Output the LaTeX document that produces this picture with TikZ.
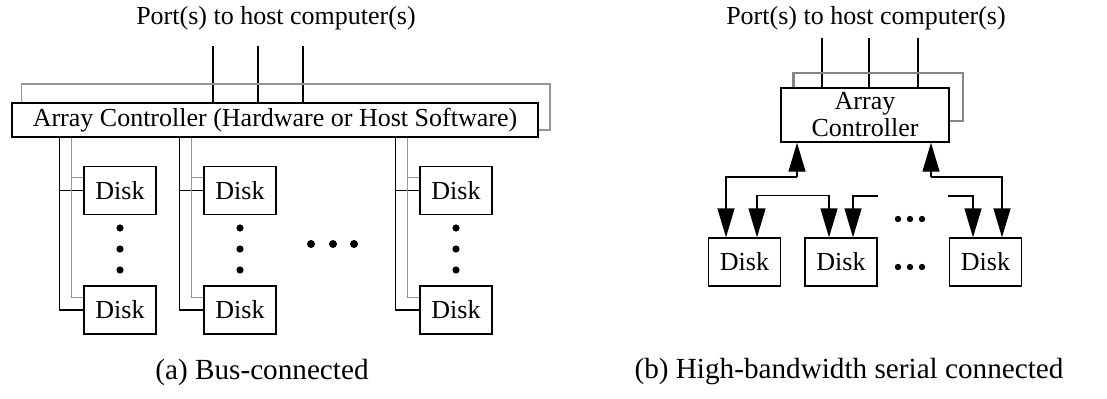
\documentclass[tikz,border=0pt]{standalone}
\usepackage{fontspec}
\setmainfont{Liberation Serif}
\usetikzlibrary{arrows.meta,positioning,calc}
\definecolor{busGray}{RGB}{150,150,150}
\definecolor{loopGray}{RGB}{135,135,135}
\tikzset{
  box/.style={draw, line width=0.7pt, inner sep=0pt, align=center,
              font=\fontsize{13}{13.5}\selectfont},
  diskbox/.style={box, minimum width=36pt, minimum height=24pt},
  lbl/.style={inner sep=0pt, font=\fontsize{13}{14}\selectfont},
  caption/.style={inner sep=0pt, font=\fontsize{14.6}{16}\selectfont},
  wire/.style={line width=0.7pt},
  graywire/.style={line width=0.55pt, draw=busGray},
  loopwire/.style={line width=1.3pt, draw=loopGray},
  arrow/.style={wire, -{Triangle[length=14.5pt, width=8.5pt]}},
  dblarrow/.style={wire, {Triangle[length=14.5pt, width=8.5pt]}-{Triangle[length=14.5pt, width=8.5pt]}}
}

\begin{document}
\begin{tikzpicture}[x=0.5pt, y=-0.5pt]
\useasboundingbox (0,0) rectangle (1107,398);
% (a) bus-connected
\node[lbl] (portA) at (276,18) {Port(s) to host computer(s)};
\node[box, minimum width=263pt, minimum height=17pt] (ctlA) at (275,120) {Array Controller (Hardware or Host Software)};
\foreach \x [count=\i] in {213,258,303} {
  \coordinate (pA\i) at (\x,46);
  \draw[wire] (pA\i) -- (pA\i |- ctlA.north);
}
\coordinate (loopA) at (550,84);
\draw[graywire] ([xshift=5pt]ctlA.north west) |- (loopA) |- ([yshift=-5pt]ctlA.east);
\foreach \c/\x in {1/120,2/240,3/456} {
  \node[diskbox] (topA\c) at (\x,190.5) {Disk};
  \node[diskbox] (botA\c) at (\x,310) {Disk};
  \coordinate (bA\c) at ($(topA\c.west)+(-24,0)$);
  \coordinate (gA\c) at ($(topA\c.north west)+(-12,12)$);
  \draw[wire] (bA\c |- ctlA.south) |- (botA\c.west);
  \draw[wire] (bA\c) -- (topA\c.west);
  \draw[graywire] (gA\c |- ctlA.south) |- ($(botA\c.north west)+(0,12)$);
  \draw[graywire] (gA\c) -- (gA\c -| topA\c.west);
  \foreach \y in {228,249,270} \fill (\x,\y) circle (1.8pt);
}
\foreach \x in {311,333,354} \fill (\x,244) circle (2pt);
\node[caption] (capA) at (262,372) {(a) Bus-connected};

% (b) serial
\node[lbl] (portB) at (866,18) {Port(s) to host computer(s)};
\node[box, minimum width=84pt, minimum height=27pt] (ctlB) at (865,115) {Array\\Controller};
\foreach \x [count=\i] in {822,869,918} {
  \coordinate (pB\i) at (\x,38);
  \draw[wire] (pB\i) -- (pB\i |- ctlB.north);
}
\coordinate (loopB) at (963,73);
\draw[loopwire] ([xshift=6.5pt]ctlB.north west) |- (loopB) |- ([yshift=-3pt]ctlB.east);
\node[diskbox] (dskB1) at (744.5,262) {Disk};
\node[diskbox] (dskB2) at (841,262) {Disk};
\node[diskbox] (dskB3) at (985.5,262) {Disk};
\coordinate (hubL) at (797,177);
\coordinate (hubR) at (931,177);
\coordinate (gapL) at (878,196);
\coordinate (gapR) at (948,196);
\draw[arrow] (hubL) -- (hubL |- ctlB.south);
\draw[arrow] (hubL) -| ($(dskB1.north)+(-18.5,0)$);
\draw[arrow] (hubR) -- (hubR |- ctlB.south);
\draw[arrow] (hubR) -| ($(dskB3.north)+(16.5,0)$);
\draw[dblarrow] ($(dskB1.north)+(12.5,0)$) -- ++(0,-42) -| ($(dskB2.north)+(-12,0)$);
\draw[arrow] (gapL) -| ($(dskB2.north)+(12,0)$);
\draw[arrow] (gapR) -| ($(dskB3.north)+(-12.5,0)$);
\foreach \x in {898,910,922} {
  \fill (\x,219) circle (1.6pt);
  \fill (\x,267) circle (1.6pt);
}
\node[caption] (capB) at (849,372) {(b) High-bandwidth serial connected};
\end{tikzpicture}
\end{document}
